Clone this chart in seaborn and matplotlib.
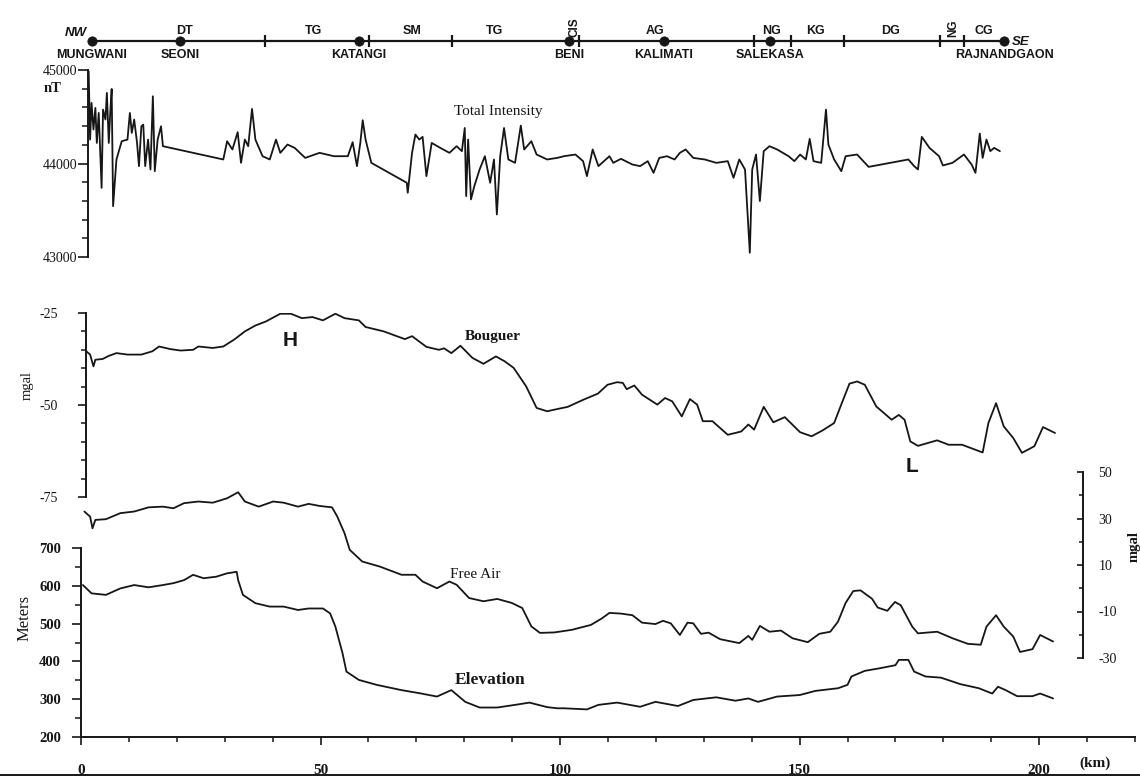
import matplotlib.pyplot as plt
import numpy as np
import seaborn as sns
from matplotlib.ticker import MultipleLocator

# ---------------- data (distance along profile, km) ----------------
ti_km = [1.6, 1.9, 2.2, 2.6, 3.0, 3.3, 3.7, 4.3, 4.6, 5.1, 5.4, 5.8, 6.1, 6.4, 6.7, 7.4,
         8.5, 9.7, 10.2, 10.6, 11.1, 11.7, 12.1, 12.6, 13.0, 13.4, 14.0, 14.5, 15.0, 15.4,
         16.0, 16.7, 17.1, 29.7, 30.5, 31.6, 32.7, 33.4, 34.2, 34.9, 35.7, 36.4, 37.9, 39.4,
         40.7, 41.6, 43.1, 44.6, 46.8, 49.8, 52.8, 55.7, 56.7, 57.6, 58.3, 58.8, 59.4, 60.6,
         68.0, 68.2, 69.1, 69.8, 70.6, 71.3, 72.1, 73.2, 75.0, 76.9, 78.4, 79.5, 80.1, 80.4,
         80.8, 81.4, 82.1, 83.2, 84.3, 85.4, 86.2, 86.8, 87.5, 88.3, 89.2, 90.6, 91.8, 92.5,
         94.0, 95.1, 97.3, 99.4, 100.8, 103.2, 104.8, 105.6, 106.8, 108.0, 110.3, 111.1,
         112.7, 115.1, 116.7, 118.3, 119.5, 120.7, 122.3, 123.9, 125.0, 126.2, 127.8, 130.2,
         132.6, 135.0, 136.2, 137.4, 138.6, 139.6, 140.1, 140.9, 141.7, 142.5, 143.7, 145.3,
         147.7, 148.9, 150.1, 151.3, 152.1, 152.9, 154.5, 155.5, 156.0, 157.2, 158.7, 159.6,
         162.0, 164.4, 172.7, 173.9, 174.7, 175.5, 177.1, 179.1, 179.9, 181.9, 184.3, 185.9,
         186.7, 187.6, 188.2, 189.0, 189.8, 190.6, 191.8]
ti_nt = [44986, 44256, 44648, 44363, 44594, 44220, 44541, 43740, 44577, 44470, 44755, 44220,
         44541, 44797, 43544, 44043, 44238, 44256, 44541, 44327, 44470, 44220, 43972, 44398,
         44416, 43972, 44256, 43936, 44719, 43918, 44256, 44398, 44185, 44043, 44238, 44150,
         44335, 44007, 44256, 44185, 44584, 44256, 44078, 44043, 44256, 44114, 44203, 44167,
         44060, 44114, 44078, 44078, 44228, 43972, 44220, 44463, 44256, 44007, 43794, 43687,
         44114, 44310, 44256, 44285, 43865, 44220, 44167, 44114, 44185, 44132, 44380, 43651,
         44256, 43616, 43758, 43936, 44078, 43794, 44043, 43455, 44078, 44380, 44043, 44007,
         44406, 44150, 44238, 44096, 44043, 44060, 44078, 44096, 44025, 43865, 44150, 43972,
         44078, 44007, 44050, 43989, 43972, 44025, 43900, 44060, 44078, 44043, 44114, 44150,
         44060, 44043, 44007, 44025, 43847, 44043, 43936, 43046, 43936, 44096, 43598, 44132,
         44185, 44150, 44078, 44025, 44096, 44043, 44263, 44025, 44007, 44577, 44203, 44043,
         43918, 44078, 44096, 43964, 44043, 43972, 43936, 44285, 44167, 44078, 43979, 44007,
         44096, 43989, 43900, 44320, 44060, 44256, 44132, 44167, 44132]

boug_km = [1.1, 1.9, 2.6, 3.0, 4.5, 5.9, 7.4, 9.7, 12.6, 14.9, 16.3, 18.6, 20.8, 23.4, 24.5,
           27.5, 29.7, 32.0, 34.2, 36.4, 38.6, 41.6, 43.8, 46.1, 48.3, 50.5, 53.1, 55.0, 58.0,
           59.4, 63.2, 67.6, 69.1, 72.1, 74.7, 75.8, 77.3, 79.2, 81.7, 84.0, 86.6, 88.4, 90.3,
           92.9, 95.1, 97.3, 99.4, 101.6, 104.8, 107.9, 109.9, 111.9, 113.1, 113.9, 115.5,
           117.1, 120.3, 121.9, 123.4, 125.4, 127.1, 128.6, 129.8, 131.8, 135.0, 137.8, 139.3,
           140.5, 142.5, 144.5, 146.9, 150.1, 152.5, 154.8, 157.2, 158.8, 160.4, 162.0, 163.6,
           166.0, 169.2, 170.7, 171.9, 173.1, 174.7, 178.7, 181.1, 183.9, 188.2, 189.4, 191.0,
           192.6, 194.6, 196.4, 199.0, 200.8, 203.3]
boug_mgal = [-35.4, -36.3, -39.5, -37.7, -37.5, -36.6, -35.9, -36.3, -36.3, -35.4, -34.1, -34.8,
             -35.2, -35.0, -34.1, -34.5, -34.1, -32.2, -30.0, -28.4, -27.3, -25.2, -25.2, -26.4,
             -26.1, -27.0, -25.2, -26.4, -27.0, -28.8, -30.0, -32.1, -31.3, -34.2, -35.0, -34.6,
             -35.9, -33.9, -37.2, -38.8, -36.8, -38.1, -39.9, -44.9, -50.8, -51.7, -51.1, -50.5,
             -48.6, -46.9, -44.5, -43.8, -44.0, -45.7, -44.7, -47.2, -49.9, -48.1, -49.0, -53.1,
             -48.4, -49.9, -54.4, -54.4, -58.1, -57.2, -55.3, -56.7, -50.5, -54.7, -53.3, -57.4,
             -58.5, -56.9, -54.9, -49.5, -44.2, -43.6, -44.5, -50.4, -54.0, -52.7, -54.0, -59.9,
             -61.1, -59.6, -60.8, -60.8, -62.9, -54.9, -49.5, -55.8, -59.0, -63.0, -61.2, -56.0,
             -57.6]

fa_km = [0.7, 1.9, 2.4, 3.0, 5.2, 8.2, 11.1, 14.1, 17.1, 19.3, 21.5, 24.5, 27.5, 30.5, 32.8,
         34.2, 37.1, 40.1, 42.3, 45.3, 47.5, 49.8, 52.4, 53.5, 55.0, 56.1, 58.7, 62.4, 66.9,
         69.8, 71.3, 74.3, 76.9, 78.4, 81.0, 84.0, 86.9, 89.9, 92.1, 94.0, 95.8, 98.8, 102.4,
         106.4, 108.7, 110.3, 112.7, 115.1, 117.1, 119.9, 121.5, 123.1, 125.0, 126.6, 127.8,
         129.4, 131.0, 133.4, 137.4, 139.3, 140.1, 141.7, 143.7, 146.1, 148.5, 151.7, 154.1,
         156.4, 158.0, 159.6, 161.2, 162.7, 165.1, 166.3, 168.3, 169.9, 171.1, 173.5, 174.7,
         178.7, 181.9, 185.1, 187.8, 189.0, 191.0, 192.6, 194.6, 196.0, 198.6, 200.2, 202.9]
fa_mgal = [33.0, 30.8, 25.8, 29.4, 29.7, 32.3, 33.0, 34.8, 35.1, 34.4, 36.6, 37.3, 36.8, 38.7,
           41.3, 37.3, 35.1, 37.3, 36.8, 35.1, 36.3, 35.4, 34.8, 30.8, 23.7, 16.5, 11.5, 9.3,
           5.8, 5.8, 2.9, 0.0, 2.9, 1.5, -4.2, -5.6, -4.6, -6.3, -8.5, -16.4, -19.2, -19.0,
           -17.9, -15.8, -13.0, -10.6, -10.9, -11.6, -14.8, -15.4, -14.0, -15.1, -20.1, -14.8,
           -15.1, -19.6, -19.1, -21.9, -23.6, -20.5, -22.2, -16.2, -18.7, -18.2, -21.5, -23.2,
           -19.6, -18.7, -14.4, -6.3, -1.2, -0.9, -4.5, -8.3, -9.7, -5.9, -7.3, -16.5, -19.4,
           -18.7, -21.5, -23.9, -24.3, -16.5, -11.6, -16.5, -20.8, -27.4, -26.2, -20.1, -22.9]

elev_km = [0.4, 2.2, 5.2, 8.2, 11.1, 14.1, 17.1, 19.3, 21.5, 23.4, 25.6, 28.2, 30.5, 32.5,
           32.8, 33.8, 36.4, 39.4, 42.3, 45.3, 47.5, 50.5, 52.0, 53.1, 54.6, 55.4, 58.0, 61.7,
           66.9, 70.6, 74.3, 77.3, 80.2, 83.2, 86.9, 90.6, 93.6, 97.3, 99.4, 100.8, 105.6,
           108.0, 111.9, 116.7, 119.9, 124.6, 127.8, 132.6, 136.6, 139.3, 141.3, 145.3, 150.0,
           153.3, 158.0, 160.0, 160.8, 163.6, 166.8, 170.0, 170.7, 172.7, 173.9, 176.3, 179.5,
           183.5, 187.4, 190.2, 191.4, 193.0, 195.4, 198.6, 200.2, 202.9]
elev_m = [602, 580, 576, 593, 602, 596, 602, 607, 615, 629, 620, 624, 633, 637, 615, 576, 554,
          545, 545, 536, 540, 540, 527, 492, 421, 373, 351, 338, 324, 316, 307, 324, 293, 278,
          278, 285, 291, 279, 276, 276, 273, 285, 291, 280, 293, 282, 298, 305, 296, 302, 293,
          307, 311, 322, 329, 338, 360, 375, 382, 390, 404, 404, 373, 360, 357, 340, 329, 315,
          333, 324, 308, 308, 315, 302]

# geological strip along the top
towns = ['MUNGWANI', 'SEONI', 'KATANGI', 'BENI', 'KALIMATI', 'SALEKASA', 'RAJNANDGAON']
town_km = [2.3, 20.7, 58.0, 101.9, 121.7, 143.8, 192.7]
units = ['DT', 'TG', 'SM', 'TG', 'CIS', 'AG', 'NG', 'KG', 'DG', 'NG', 'CG']
unit_km = [21.5, 48.6, 69.1, 86.4, 103.1, 119.8, 144.1, 153.2, 168.9, 182.0, 188.5]
unit_upright = [False, False, False, False, True, False, False, False, False, True, False]
contact_km = [38.4, 60.1, 77.5, 104.0, 140.5, 148.2, 159.3, 179.3, 184.3]

# ---------------- layout ----------------
W, H = 1140, 782
INK = '#161616'


def box(top, bottom, left=81, right=1135):
    return [left / W, 1 - bottom / H, (right - left) / W, (bottom - top) / H]


sns.set_theme(style='white')
plt.rcParams['font.family'] = ['Liberation Serif', 'DejaVu Serif']
plt.rcParams['axes.unicode_minus'] = False
plt.rcParams['axes.edgecolor'] = INK
plt.rcParams['xtick.color'] = INK
plt.rcParams['ytick.color'] = INK

fig = plt.figure(figsize=(11.4, 7.82), dpi=100)
fig.patch.set_facecolor('white')
SANS = ['Liberation Sans', 'DejaVu Sans']
line_kw = dict(color=INK, linewidth=1.3, sort=False, estimator=None, legend=False)


def strip_axes(ax, keep):
    ax.set_facecolor('none')
    ax.set_xlim(0, 220)
    for side in ['left', 'right', 'top', 'bottom']:
        ax.spines[side].set_visible(side in keep)
        ax.spines[side].set_linewidth(1.4)
    ax.grid(False)


# top strip with towns and units
ax_top = fig.add_axes(box(0, 68))
ax_top.set_xlim(0, 220)
ax_top.set_ylim(68, 0)
ax_top.axis('off')
PROFILE_Y = 41
sns.lineplot(x=[town_km[0], town_km[-1]], y=[PROFILE_Y, PROFILE_Y], ax=ax_top,
             color=INK, linewidth=1.6, legend=False)
ax_top.vlines(contact_km, PROFILE_Y - 6, PROFILE_Y + 6, color=INK, linewidth=1.6)
sns.scatterplot(x=town_km, y=[PROFILE_Y] * len(town_km), ax=ax_top, s=45,
                color=INK, edgecolor=INK, zorder=3, legend=False)
for name, km in zip(towns, town_km):
    ax_top.text(km, 55, name, ha='center', va='center', family=SANS,
                fontweight='bold', fontsize=9, color=INK)
for name, km, up in zip(units, unit_km, unit_upright):
    if up:
        ax_top.text(km, 37, name, ha='center', va='bottom', rotation=90, family=SANS,
                    fontweight='bold', fontsize=8.5, color=INK)
    else:
        ax_top.text(km, 31, name, ha='center', va='center', family=SANS,
                    fontweight='bold', fontsize=9, color=INK)
ax_top.text(town_km[0] - 1.0, 33, 'NW', ha='right', va='center', family=SANS,
            fontweight='bold', style='italic', fontsize=9.5, color=INK)
ax_top.text(town_km[-1] + 1.6, 42, 'SE', ha='left', va='center', family=SANS,
            fontweight='bold', style='italic', fontsize=9.5, color=INK)

# total intensity
ax_ti = fig.add_axes(box(70, 257))
strip_axes(ax_ti, ['left'])
ax_ti.spines['left'].set_position(('data', 1.5))
sns.lineplot(x=ti_km, y=ti_nt, ax=ax_ti, **line_kw)
ax_ti.set_ylim(43000, 45000)
ax_ti.set_xticks([])
ax_ti.set_yticks([43000, 44000, 45000])
ax_ti.yaxis.set_minor_locator(MultipleLocator(200))
ax_ti.tick_params(axis='y', which='major', left=True, direction='out', length=7, width=1.2,
                  pad=1, labelsize=10)
ax_ti.tick_params(axis='y', which='minor', left=True, direction='out', length=4, width=1.1)
ax_ti.set_xlabel('')
ax_ti.set_ylabel('')
ax_ti.text(87, 44551, 'Total Intensity', ha='center', va='center', fontsize=11, color=INK)
fig.text(53 / W, 1 - 88 / H, 'nT', ha='center', va='center', fontsize=10.5,
         fontweight='bold', color=INK)

# Bouguer
ax_bg = fig.add_axes(box(313, 497))
strip_axes(ax_bg, ['left'])
ax_bg.spines['left'].set_position(('data', 1.0))
sns.lineplot(x=boug_km, y=boug_mgal, ax=ax_bg, **line_kw)
ax_bg.set_ylim(-75, -25)
ax_bg.set_xticks([])
ax_bg.set_yticks([-75, -50, -25])
ax_bg.yaxis.set_minor_locator(MultipleLocator(5))
ax_bg.tick_params(axis='y', which='major', left=True, direction='out', length=6, width=1.2,
                  pad=14, labelsize=10)
ax_bg.tick_params(axis='y', which='minor', left=True, direction='out', length=3.6, width=1.1)
ax_bg.set_xlabel('')
ax_bg.set_ylabel('')
ax_bg.text(86, -31.5, 'Bouguer', ha='center', va='center', fontsize=11,
           fontweight='bold', color=INK)
ax_bg.text(43.6, -32.6, 'H', ha='center', va='center', family=SANS, fontweight='bold',
           fontsize=15, color=INK)
ax_bg.text(173.5, -66.8, 'L', ha='center', va='center', family=SANS, fontweight='bold',
           fontsize=15, color=INK)
fig.text(27 / W, 1 - 385 / H, 'mgal', rotation=90, ha='center', va='center',
         fontsize=10.5, color=INK)

# elevation (left scale) with km axis
ax_el = fig.add_axes(box(548, 737))
strip_axes(ax_el, ['left', 'bottom'])
sns.lineplot(x=elev_km, y=elev_m, ax=ax_el, **line_kw)
ax_el.set_ylim(200, 700)
ax_el.set_xlim(0, 220)
ax_el.set_yticks(np.arange(200, 701, 100))
ax_el.yaxis.set_minor_locator(MultipleLocator(50))
ax_el.set_xticks(np.arange(0, 201, 50))
ax_el.xaxis.set_minor_locator(MultipleLocator(10))
ax_el.tick_params(axis='y', which='major', left=True, direction='out', length=6.5, width=1.2,
                  pad=8, labelsize=10.5)
ax_el.tick_params(axis='y', which='minor', left=True, direction='out', length=4.3, width=1.1)
ax_el.tick_params(axis='x', which='major', bottom=True, direction='out', length=5.5, width=1.2,
                  pad=14, labelsize=11)
ax_el.tick_params(axis='x', which='minor', bottom=True, direction='out', length=3.6, width=1.1)
for lab in ax_el.get_xticklabels() + ax_el.get_yticklabels():
    lab.set_fontweight('bold')
ax_el.set_xlabel('')
ax_el.set_ylabel('')
ax_el.text(85.4, 351, 'Elevation', ha='center', va='center', fontsize=12.5,
           fontweight='bold', color=INK)
fig.text(25 / W, 1 - 618 / H, 'Meters', rotation=90, ha='center', va='center',
         fontsize=12, color=INK)
fig.text(1095 / W, 1 - 763 / H, '(km)', ha='center', va='center', fontsize=11,
         fontweight='bold', color=INK)

# free air (right scale)
ax_fa = fig.add_axes(box(472, 658))
strip_axes(ax_fa, ['right'])
ax_fa.spines['right'].set_position(('data', 209.2))
sns.lineplot(x=fa_km, y=fa_mgal, ax=ax_fa, **line_kw)
ax_fa.set_ylim(-30, 50)
ax_fa.set_xticks([])
ax_fa.yaxis.tick_right()
ax_fa.set_yticks([-30, -10, 10, 30, 50])
ax_fa.yaxis.set_minor_locator(MultipleLocator(10))
ax_fa.tick_params(axis='y', which='major', right=True, left=False, direction='in', length=4,
                  width=1.2, pad=11, labelsize=10)
ax_fa.tick_params(axis='y', which='minor', right=True, left=False, direction='in', length=3,
                  width=1.1)
ax_fa.set_xlabel('')
ax_fa.set_ylabel('')
ax_fa.text(82.2, 5.8, 'Free Air', ha='center', va='center', fontsize=11, color=INK)
fig.text(1134 / W, 1 - 546 / H, 'mgal', rotation=90, ha='center', va='center',
         fontsize=10.5, fontweight='bold', color=INK)

# bottom page edge
ax_edge = fig.add_axes([0, 1 - 777 / H, 1, 4 / H])
ax_edge.set_zorder(-1)
ax_edge.set_ylim(0, 1)
ax_edge.axis('off')
ax_edge.axhline(0.5, color=INK, linewidth=1.4)

fig.savefig('out.png', dpi=100, facecolor='white')
